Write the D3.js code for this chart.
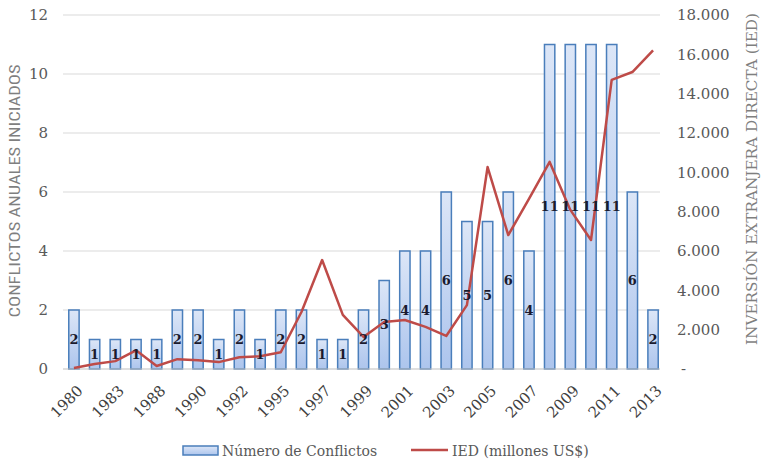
<!DOCTYPE html>
<html><head><meta charset="utf-8">
<script src="https://cdn.jsdelivr.net/npm/d3@7"></script>
<style>body{margin:0;background:#fff}svg{display:block}</style>
</head><body>
<svg id="c" width="761" height="460"></svg>
<script>
const years = ["1980","1982","1983","1985","1988","1989","1990","1991","1992","1994","1995","1996","1997","1998","1999","2000","2001","2002","2003","2004","2005","2006","2007","2008","2009","2010","2011","2012","2013"];
const conflicts = [2,1,1,1,1,2,2,1,2,1,2,2,1,1,2,3,4,4,6,5,5,6,4,11,11,11,11,6,2];
const ied = [50,250,400,950,150,500,450,350,600,650,850,2900,5540,2750,1630,2390,2490,2140,1680,3250,10270,6810,8650,10530,8090,6560,14700,15100,16200];
const leftTicks = [0,2,4,6,8,10,12];
const rightTicks = [0,2000,4000,6000,8000,10000,12000,14000,16000,18000];
const seriesNames = ["Número de Conflictos","IED (millones US$)"];
const leftTitle = "CONFLICTOS ANUALES INICIADOS";
const rightTitle = "INVERSIÓN EXTRANJERA DIRECTA (IED)";

const svg = d3.select("#c");
const serif = "'DejaVu Serif', serif";
const x = d3.scaleBand().domain(years).range([63.6, 663.4]).paddingInner(0.5).paddingOuter(0.25);
const yL = d3.scaleLinear().domain([0,12]).range([369,15]);
const yR = d3.scaleLinear().domain([0,18000]).range([369,15]);
const cx = i => x(years[i]) + x.bandwidth()/2;

const defs = svg.append("defs");
const g = defs.append("linearGradient").attr("id","bg").attr("x1",0).attr("y1",0).attr("x2",0).attr("y2",1);
g.append("stop").attr("offset","0%").attr("stop-color","#dce6f7");
g.append("stop").attr("offset","100%").attr("stop-color","#adc5ed");

// gridlines
svg.append("g").selectAll("line").data(leftTicks.filter(d=>d>0)).join("line")
  .attr("x1",63).attr("x2",660).attr("y1",d=>yL(d)).attr("y2",d=>yL(d))
  .attr("stroke","#d9d9d9").attr("stroke-width",1);

// left tick labels
svg.append("g").selectAll("text").data(leftTicks).join("text")
  .attr("x",48).attr("y",d=>yL(d)).attr("dy","0.35em").attr("text-anchor","end")
  .attr("font-family",serif).attr("font-size",15).attr("fill","#595959").text(d=>d);

// right tick labels
svg.append("g").selectAll("text").data(rightTicks).join("text")
  .attr("x",d=>d===0?681:677).attr("y",d=>yR(d)).attr("dy","0.35em").attr("text-anchor","start")
  .attr("font-family",serif).attr("font-size",15).attr("fill","#595959")
  .text(d=>d===0?"-":d3.format(",")(d).replace(/,/g,"."));

// bars
svg.append("g").selectAll("rect").data(conflicts).join("rect")
  .attr("x",(d,i)=>x(years[i])).attr("width",x.bandwidth())
  .attr("y",d=>yL(d)).attr("height",d=>yL(0)-yL(d))
  .attr("fill","url(#bg)").attr("stroke","#4a7ebb").attr("stroke-width",1.5);

// axis baseline
svg.append("line").attr("x1",63).attr("x2",660).attr("y1",yL(0)).attr("y2",yL(0))
  .attr("stroke","#bfbfbf").attr("stroke-width",1);

// line
const line = d3.line().x((d,i)=>cx(i)).y(d=>yR(d));
svg.append("path").datum(ied).attr("d",line).attr("fill","none")
  .attr("stroke","#be4b48").attr("stroke-width",2.5).attr("stroke-linejoin","round");

// bar labels
svg.append("g").selectAll("text").data(conflicts).join("text")
  .attr("x",(d,i)=>cx(i)).attr("y",d=>(yL(d)+yL(0))/2).attr("dy","0.36em")
  .attr("text-anchor","middle").attr("font-family",serif).attr("font-size",13).attr("font-weight","bold")
  .attr("fill","#1a1a2e").text(d=>d);

// x tick labels (every other)
svg.append("g").selectAll("text").data(years.filter((d,i)=>i%2===0)).join("text")
  .attr("transform",d=>`translate(${x(d)+x.bandwidth()/2+6},${yL(0)+19}) rotate(-45)`)
  .attr("text-anchor","end").attr("dy","0.35em")
  .attr("font-family",serif).attr("font-size",15).attr("fill","#404040").text(d=>d);

// axis titles
svg.append("text").attr("transform","translate(20,191) rotate(-90)").attr("text-anchor","middle")
  .attr("font-family","'Liberation Sans Narrow', 'Roboto Condensed', Lato, sans-serif").attr("font-size",15).attr("fill","#7f7f7f")
  .attr("textLength",253).attr("lengthAdjust","spacingAndGlyphs").text(leftTitle);
svg.append("text").attr("transform","translate(757,179) rotate(-90)").attr("text-anchor","middle")
  .attr("font-family",serif).attr("font-size",14).attr("fill","#7f7f7f")
  .attr("textLength",332).attr("lengthAdjust","spacingAndGlyphs").text(rightTitle);

// legend
const lg = svg.append("g");
lg.append("rect").attr("x",183).attr("y",446).attr("width",35).attr("height",9)
  .attr("fill","url(#bg)").attr("stroke","#4a7ebb").attr("stroke-width",1.5);
lg.append("text").attr("x",222).attr("y",451).attr("dy","0.35em").attr("font-family",serif)
  .attr("font-size",14).attr("fill","#595959").text(seriesNames[0]);
lg.append("line").attr("x1",411).attr("x2",448).attr("y1",450).attr("y2",450)
  .attr("stroke","#be4b48").attr("stroke-width",2.5);
lg.append("text").attr("x",452).attr("y",451).attr("dy","0.35em").attr("font-family",serif)
  .attr("font-size",14).attr("fill","#595959").text(seriesNames[1]);
</script>
</body></html>
